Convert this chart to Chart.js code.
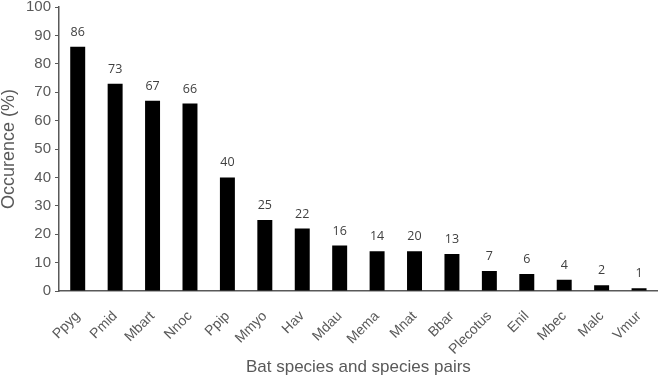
<!DOCTYPE html>
<html>
<head>
<meta charset="utf-8">
<script src="https://cdn.jsdelivr.net/npm/chart.js@4"></script>
<style>
  html, body { margin: 0; padding: 0; background: #fff; }
  #wrap { width: 660px; height: 378px; }
</style>
</head>
<body>
<div id="wrap"><canvas id="chart" width="660" height="378"></canvas></div>
<script>
let species = ["Ppyg", "Pmid", "Mbart", "Nnoc", "Ppip", "Mmyo", "Hav", "Mdau", "Mema", "Mnat", "Bbar", "Plecotus", "Enil", "Mbec", "Malc", "Vmur"];
let occurence = [86, 73, 67, 66, 40, 25, 22, 16, 14, 14, 13, 7, 6, 4, 2, 1];
// labels printed above bars (as in the original figure, Mnat reads 20)
let barLabels = ["86", "73", "67", "66", "40", "25", "22", "16", "14", "20", "13", "7", "6", "4", "2", "1"];

const axisColor = "#595959";
const textColor = "#595959";

// Draw the number above each bar
const barLabelPlugin = {
    id: "barLabels",
    afterDatasetsDraw(chart) {
        let ctx = chart.ctx;
        let meta = chart.getDatasetMeta(0);
        ctx.save();
        ctx.font = "12.5px 'Open Sans', sans-serif";
        ctx.fillStyle = "#404040";
        ctx.textAlign = "center";
        ctx.textBaseline = "alphabetic";
        meta.data.forEach((bar, i) => {
            ctx.fillText(barLabels[i], bar.x, bar.y - 11);
        });
        ctx.restore();
    }
};

new Chart(document.getElementById("chart").getContext("2d"), {
    type: "bar",
    data: {
        labels: species,
        datasets: [{
            data: occurence,
            backgroundColor: "#000000",
            borderWidth: 0,
            categoryPercentage: 1,
            barPercentage: 0.4
        }]
    },
    options: {
        responsive: false,
        animation: false,
        layout: { padding: { top: 7, right: 2, left: 0, bottom: 0 } },
        plugins: { legend: { display: false }, tooltip: { enabled: false } },
        scales: {
            x: {
                grid: { display: false },
                border: { display: true, color: axisColor, width: 1.5 },
                ticks: {
                    color: textColor,
                    font: { family: "'Liberation Sans', Arial, sans-serif", size: 14 },
                    minRotation: 45, maxRotation: 45,
                    autoSkip: false,
                    padding: 9
                },
                title: {
                    display: true,
                    text: "Bat species and species pairs",
                    color: textColor,
                    font: { family: "'Liberation Sans', Arial, sans-serif", size: 17 },
                    padding: { top: 4, bottom: 0 }
                },
                afterFit(scale) { scale.height = 87; }
            },
            y: {
                min: 0, max: 100,
                ticks: {
                    stepSize: 10,
                    color: textColor,
                    font: { family: "'Liberation Sans', Arial, sans-serif", size: 15 },
                    padding: 4
                },
                grid: { display: true, drawOnChartArea: false, drawTicks: true, tickLength: 4, color: axisColor },
                border: { display: true, color: axisColor, width: 1.5 },
                title: {
                    display: true,
                    text: "Occurence (%)",
                    color: textColor,
                    font: { family: "'Liberation Sans', Arial, sans-serif", size: 18, lineHeight: 1 },
                    padding: { top: 0, bottom: 4 }
                },
                afterFit(scale) {
                    scale.width = 59;
                    scale.paddingTop = 0;
                    scale.paddingBottom = 0;
                }
            }
        }
    },
    plugins: [barLabelPlugin]
});
</script>
</body>
</html>
